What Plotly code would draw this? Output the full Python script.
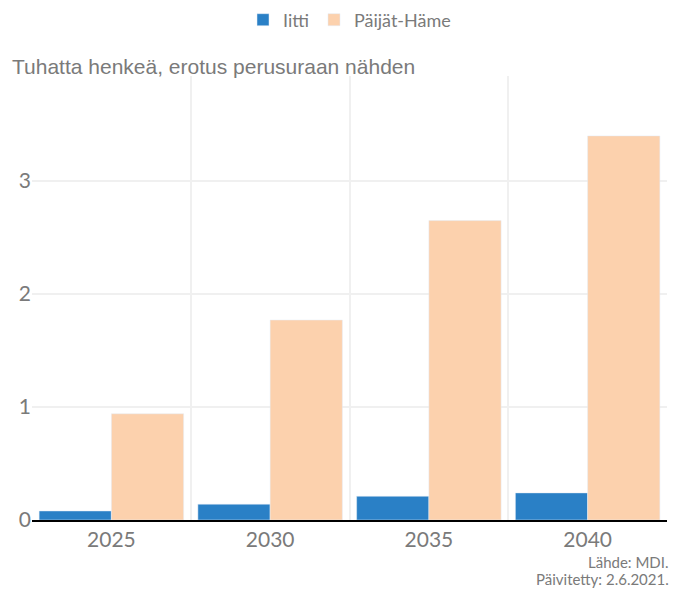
import plotly.graph_objects as go

years = ["2025", "2030", "2035", "2040"]
iitti = [0.08, 0.14, 0.21, 0.24]
paijat_hame = [0.94, 1.77, 2.65, 3.40]
notes = ["Lähde: MDI.", "Päivitetty: 2.6.2021."]

BLUE = "#2a80c6"
ORANGE = "#fcd1ad"
GREY = "#7a7a7a"

fig = go.Figure()
fig.add_trace(go.Bar(x=years, y=iitti, name="Iitti", marker_color=BLUE))
fig.add_trace(go.Bar(x=years, y=paijat_hame, name="Päijät-Häme", marker_color=ORANGE))

fig.update_layout(
    width=675,
    height=589,
    barmode="group",
    bargap=0.09,
    bargroupgap=0,
    plot_bgcolor="white",
    paper_bgcolor="white",
    font=dict(family="Lato", color=GREY),
    margin=dict(l=32, r=8, t=76, b=69),
    title=dict(
        text="Tuhatta henkeä, erotus perusuraan nähden",
        font=dict(family="Liberation Sans", size=21, color=GREY),
        x=12 / 675, xanchor="left",
        y=1 - 67 / 589, yanchor="middle",
    ),
    legend=dict(
        orientation="h",
        x=0.5, xanchor="center",
        yref="container", y=1 - 20 / 589, yanchor="middle",
        font=dict(size=18, color=GREY),
    ),
    xaxis=dict(
        tickson="boundaries",
        showgrid=True,
        gridcolor="#f0f0f0",
        gridwidth=1.5,
        ticks="",
        showline=True,
        linecolor="black",
        linewidth=1.5,
        tickfont=dict(size=21, color=GREY),
    ),
    yaxis=dict(
        range=[0, 3.93],
        tickvals=[0, 1, 2, 3],
        gridcolor="#f0f0f0",
        gridwidth=1.5,
        zeroline=False,
        tickfont=dict(size=21, color=GREY),
    ),
)

# source / update notes, bottom right (two lines, tight spacing)
for line, ypos in zip(notes, [-0.094, -0.134]):
    fig.add_annotation(
        text=line,
        xref="paper", yref="paper",
        x=1, xanchor="right", xshift=4,
        y=ypos, yanchor="middle",
        showarrow=False,
        font=dict(size=15, color=GREY),
    )

# the page's default body margin shifts the figure; drop it
fig.write_html(
    "out.html",
    config={"displayModeBar": False},
    post_script="document.body.style.margin='0';document.body.style.overflow='hidden';",
)
